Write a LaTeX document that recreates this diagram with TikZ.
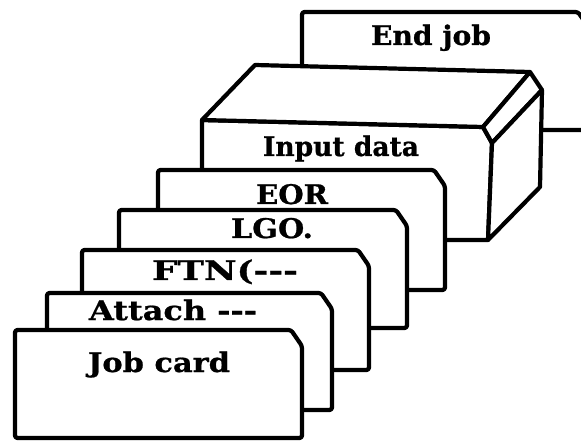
\documentclass[tikz,border=0pt]{standalone}
\usepackage{fontspec}
\usepackage{graphicx}
\newfontfamily\cardfont{DejaVu Serif}[Ligatures=TeXOff, BoldFeatures={FakeBold=0.8}]

\tikzset{
  outline/.style={draw=black, fill=white, line width=4.2pt, line join=round, line cap=round},
  cardtext/.style={anchor=base, inner sep=0pt,
    font=\cardfont\bfseries\fontsize{27}{27}\selectfont},
}

% a punched card seen from the front: left, top, right, bottom (corner cut at top right)
\newcommand\deckcard[4]{%
  \draw[outline, rounded corners=2.5pt]
    (#1,#4) -- (#1,#2) -- ({#3-11},#2) -- (#3,{#2+16}) -- (#3,#4) -- cycle;
}

\begin{document}
\begin{tikzpicture}[x=1pt, y=-1pt]
  \useasboundingbox (0,0) rectangle (581,446);
  \clip (0,0) rectangle (581,446);

  % last card of the deck
  \deckcard{302}{12}{589}{130}
  \node[cardtext] (endjob) at (431,45) {\resizebox{120pt}{\height}{End job}};

  % the block of data cards
  \draw[outline] (202,240) -- (202,120) -- (483,127) -- (492,143) -- (488,240) -- cycle;
  \draw[outline] (202,120) -- (255,65) -- (530,72) -- (483,127) -- cycle;
  \draw[outline] (483,127) -- (530,72) -- (542,90) -- (492,143) -- cycle;
  \draw[outline] (492,143) -- (542,90) -- (540,187) -- (488,240) -- cycle;
  \node[cardtext] (input) at (341,156) {\resizebox{156pt}{\height}{Input data}};

  % control cards, back to front
  \deckcard{158}{170}{445}{290}
  \node[cardtext] (eor) at (292,204) {\resizebox{72pt}{\height}{EOR}};

  \deckcard{119}{210}{407}{328}
  \node[cardtext] (lgo) at (272,238) {\resizebox{82pt}{\height}{LGO.}};

  \deckcard{82}{250}{369}{370}
  \node[cardtext] (ftn) at (225,280) {\resizebox{146pt}{\height}{FTN(---}};

  \deckcard{47}{293}{332}{410}
  \node[cardtext] (attach) at (173,320) {\resizebox{168pt}{\height}{Attach ---}};

  \deckcard{15}{330}{302}{438}
  \node[cardtext] (jobcard) at (159,372) {\resizebox{142pt}{\height}{Job card}};
\end{tikzpicture}
\end{document}
